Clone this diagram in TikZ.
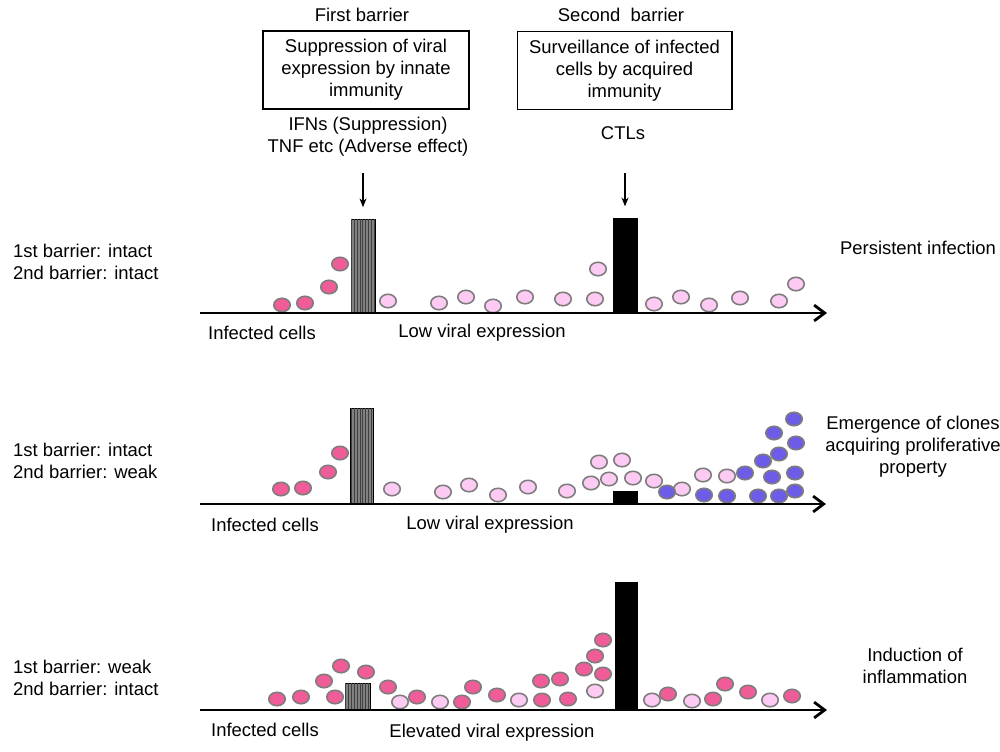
\documentclass[tikz,border=0pt]{standalone}
\usepackage{fontspec}
\setmainfont{Liberation Sans}
\usetikzlibrary{positioning,calc,shapes.geometric,arrows.meta,patterns.meta}

\definecolor{infpink}{RGB}{240,92,152}
\definecolor{lowpink}{RGB}{252,202,242}
\definecolor{clonepurple}{RGB}{108,92,232}
\definecolor{cellrim}{RGB}{125,125,125}

\tikzset{
    cell/.style={ellipse, draw=cellrim, line width=0.9pt, minimum width=0.33cm, minimum height=0.27cm, inner sep=0pt},
    inf/.style={cell, fill=infpink},
    low/.style={cell, fill=lowpink},
    clone/.style={cell, fill=clonepurple},
    frame/.style={draw, line width=0.6pt, align=center, inner sep=2pt},
    hatched/.style={draw, line width=0.5pt, fill=black!50, anchor=south, inner sep=0pt,
        postaction={pattern={Lines[angle=90,distance=1.6pt,line width=0.35pt]}, pattern color=black!75}},
    solidbar/.style={draw, fill=black, anchor=south, inner sep=0pt},
    axis/.style={line width=1.6pt, -{Straight Barb[length=6pt,width=9pt,line width=1.6pt]}},
    cue/.style={line width=0.6pt, -{Stealth[length=5pt,width=4pt]}, shorten >=0.24cm},
}

\begin{document}
\begin{tikzpicture}[x=0.02cm, y=-0.02cm, font=\fontsize{10.5}{12.5}\selectfont]
    \useasboundingbox (0,0) rectangle (1000,751);

    % the two barriers
    \node (first) at (362,15) {First barrier};
    \node (second) at (621,15) {Second~ barrier};
    \node[frame, minimum width=4.12cm, minimum height=1.56cm] (innate) at (366,70)
        {Suppression of viral\\expression by innate\\immunity};
    \node[frame, minimum width=4.30cm, minimum height=1.56cm] (acquired) at (624.5,70.5)
        {Surveillance of infected\\cells by acquired\\immunity};
    \node[align=center] (ifn) at (368,137) {IFNs (Suppression)\\TNF etc (Adverse effect)};
    \node (ctl) at (623,133) {CTLs};

    % row 1: persistent infection
    \node[align=left, anchor=west] (case1) at (7,262) {1st barrier: intact\\2nd barrier: intact};
    \node (out1) at (918,248) {Persistent infection};
    \coordinate (s1) at (200,313);
    \coordinate (e1) at (827,313);
    \node[hatched, minimum width=0.48cm, minimum height=1.86cm] (b11) at (363,313) {};
    \node[solidbar, minimum width=0.48cm, minimum height=1.88cm] (b12) at (625,313) {};
    \foreach \x/\y [count=\i] in {282/305, 305/303, 329/287, 340/264}
        \node[inf] (r1i\i) at (\x,\y) {};
    \foreach \x/\y [count=\i] in {388/301, 439/303, 466/297, 493/306, 525/297, 563/299, 595/299,
        598/269, 654/304, 681/297, 709/305, 740/298, 779/301, 796/284}
        \node[low] (r1l\i) at (\x,\y) {};
    \draw[axis] (s1) -- (e1);
    \node (inf1) at (262,333) {Infected cells};
    \node (expr1) at (482,333) {Low viral expression};

    % row 2: clones
    \node[align=left, anchor=west] (case2) at (7,461) {1st barrier: intact\\2nd barrier: weak};
    \node[align=center] (out2) at (913,447) {Emergence of clones\\acquiring proliferative\\property};
    \coordinate (s2) at (200,504);
    \coordinate (e2) at (826,504);
    \node[hatched, minimum width=0.46cm, minimum height=1.90cm] (b21) at (362,504) {};
    \node[solidbar, minimum width=0.48cm, minimum height=0.24cm] (b22) at (625,504) {};
    \foreach \x/\y [count=\i] in {281/489, 303/488, 328/472, 340/453}
        \node[inf] (r2i\i) at (\x,\y) {};
    \foreach \x/\y [count=\i] in {392/489, 443/492, 469/485, 498/495, 528/487, 567/491, 591/483,
        609/479, 633/478, 599/462, 622/460, 654/481, 682/489, 703/475, 727/476}
        \node[low] (r2l\i) at (\x,\y) {};
    \foreach \x/\y [count=\i] in {667/492, 704/495, 727/496, 745/473, 758/496, 779/496, 795/491,
        763/461, 772/477, 779/454, 795/473, 774/433, 796/443, 794/419}
        \node[clone] (r2c\i) at (\x,\y) {};
    \draw[axis] (s2) -- (e2);
    \node (inf2) at (265,525) {Infected cells};
    \node (expr2) at (490,525) {Low viral expression};

    % row 3: inflammation
    \node[align=left, anchor=west] (case3) at (7,678) {1st barrier: weak\\2nd barrier: intact};
    \node[align=center] (out3) at (915,666) {Induction of\\inflammation};
    \coordinate (s3) at (200,710);
    \coordinate (e3) at (827,710);
    \node[hatched, minimum width=0.50cm, minimum height=0.52cm] (b31) at (357.5,710) {};
    \node[solidbar, minimum width=0.44cm, minimum height=2.54cm] (b32) at (626,710) {};
    \foreach \x/\y [count=\i] in {277/699, 301/697, 324/681, 341/666, 335/697, 366/672, 388/687,
        417/697, 462/702, 473/687, 497/695, 541/681, 542/700, 560/679, 568/699, 584/669, 595/656,
        603/640, 603/674, 668/694, 713/699, 725/684, 748/692, 792/696}
        \node[inf] (r3i\i) at (\x,\y) {};
    \foreach \x/\y [count=\i] in {400/702, 440/702, 519/700, 595/691, 652/700, 692/701, 770/700}
        \node[low] (r3l\i) at (\x,\y) {};
    \draw[axis] (s3) -- (e3);
    \node (inf3) at (265,730) {Infected cells};
    \node (expr3) at (492,733) {Elevated viral expression};

    % cues onto the barriers
    \coordinate (c1) at (363,173);
    \coordinate (c2) at (625,173);
    \draw[cue] (c1) -- (b11.north);
    \draw[cue] (c2) -- (b12.north);
\end{tikzpicture}
\end{document}
